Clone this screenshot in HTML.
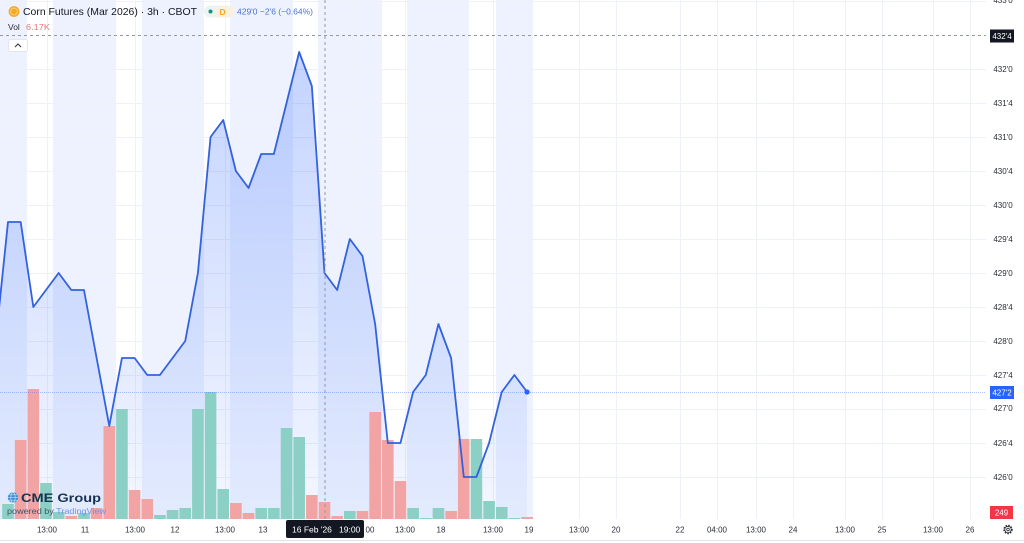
<!DOCTYPE html>
<html><head><meta charset="utf-8"><style>
html,body{margin:0;padding:0;background:#fff;}
svg{display:block;}
</style></head><body>
<svg width="1024" height="543" viewBox="0 0 1024 543" xmlns="http://www.w3.org/2000/svg" font-family="'Liberation Sans', sans-serif">
<defs>
<linearGradient id="g" x1="0" y1="50" x2="0" y2="519" gradientUnits="userSpaceOnUse">
<stop offset="0" stop-color="#2962ff" stop-opacity="0.28"/>
<stop offset="1" stop-color="#2962ff" stop-opacity="0.05"/>
</linearGradient>
<clipPath id="cp"><rect x="0" y="0" width="986" height="519"/></clipPath>
</defs>
<rect width="1024" height="543" fill="#fff"/>
<!-- session bands -->
<g fill="#edf2fe">
<rect x="0" y="0" width="27" height="519"/>
<rect x="53" y="0" width="63" height="519"/>
<rect x="142" y="0" width="62" height="519"/>
<rect x="230" y="0" width="63" height="519"/>
<rect x="318" y="0" width="64" height="519"/>
<rect x="407" y="0" width="62" height="519"/>
<rect x="496" y="0" width="37" height="519"/>
</g>
<!-- grid -->
<g stroke="#eef1f7" stroke-width="1">
<line x1="0" y1="69.5" x2="986" y2="69.5"/>
<line x1="0" y1="103.5" x2="986" y2="103.5"/>
<line x1="0" y1="137.5" x2="986" y2="137.5"/>
<line x1="0" y1="171.5" x2="986" y2="171.5"/>
<line x1="0" y1="205.5" x2="986" y2="205.5"/>
<line x1="0" y1="239.5" x2="986" y2="239.5"/>
<line x1="0" y1="273.5" x2="986" y2="273.5"/>
<line x1="0" y1="307.5" x2="986" y2="307.5"/>
<line x1="0" y1="341.5" x2="986" y2="341.5"/>
<line x1="0" y1="375.5" x2="986" y2="375.5"/>
<line x1="0" y1="409.5" x2="986" y2="409.5"/>
<line x1="0" y1="443.5" x2="986" y2="443.5"/>
<line x1="0" y1="477.5" x2="986" y2="477.5"/>
<line x1="0" y1="1.5" x2="986" y2="1.5"/>
<line x1="47.5" y1="0" x2="47.5" y2="519"/>
<line x1="85.5" y1="0" x2="85.5" y2="519"/>
<line x1="135.5" y1="0" x2="135.5" y2="519"/>
<line x1="175.5" y1="0" x2="175.5" y2="519"/>
<line x1="225.5" y1="0" x2="225.5" y2="519"/>
<line x1="263.5" y1="0" x2="263.5" y2="519"/>
<line x1="352.5" y1="0" x2="352.5" y2="519"/>
<line x1="405.5" y1="0" x2="405.5" y2="519"/>
<line x1="441.5" y1="0" x2="441.5" y2="519"/>
<line x1="493.5" y1="0" x2="493.5" y2="519"/>
<line x1="529.5" y1="0" x2="529.5" y2="519"/>
<line x1="579.5" y1="0" x2="579.5" y2="519"/>
<line x1="616.5" y1="0" x2="616.5" y2="519"/>
<line x1="680.5" y1="0" x2="680.5" y2="519"/>
<line x1="717.5" y1="0" x2="717.5" y2="519"/>
<line x1="756.5" y1="0" x2="756.5" y2="519"/>
<line x1="793.5" y1="0" x2="793.5" y2="519"/>
<line x1="845.5" y1="0" x2="845.5" y2="519"/>
<line x1="882.5" y1="0" x2="882.5" y2="519"/>
<line x1="933.5" y1="0" x2="933.5" y2="519"/>
<line x1="970.5" y1="0" x2="970.5" y2="519"/>
</g>
<g clip-path="url(#cp)">
<!-- area -->
<path fill="url(#g)" d="M-4.66,344 L8,222 L20.66,222 L33.32,307 L45.98,290 L58.64,273 L71.3,290 L83.96,290 L96.62,358 L109.28,426 L121.94,358 L134.6,358 L147.26,375 L159.92,375 L172.58,358 L185.24,341 L197.9,273 L210.56,137 L223.22,120 L235.88,171 L248.54,188 L261.2,154 L273.86,154 L286.52,103 L299.18,52 L311.84,86 L324.5,273 L337.16,290 L349.82,239 L362.48,256 L375.14,324 L387.8,443 L400.46,443 L413.12,392 L425.78,375 L438.44,324 L451.1,358 L463.76,477 L476.42,477 L489.08,443 L501.74,392 L514.4,375 L527.06,392 L527.06,519 L-4.66,519 Z"/>
<!-- volume bars -->
<g>
<rect x="2.2" y="504" width="11.6" height="15" fill="#8bcfc5"/>
<rect x="14.86" y="440" width="11.6" height="79" fill="#f2a3a3"/>
<rect x="27.52" y="389" width="11.6" height="130" fill="#f2a3a3"/>
<rect x="40.18" y="483" width="11.6" height="36" fill="#8bcfc5"/>
<rect x="52.84" y="512" width="11.6" height="7" fill="#8bcfc5"/>
<rect x="65.5" y="516" width="11.6" height="3" fill="#f2a3a3"/>
<rect x="78.16" y="513" width="11.6" height="6" fill="#8bcfc5"/>
<rect x="90.82" y="508" width="11.6" height="11" fill="#f2a3a3"/>
<rect x="103.48" y="426" width="11.6" height="93" fill="#f2a3a3"/>
<rect x="116.14" y="409" width="11.6" height="110" fill="#8bcfc5"/>
<rect x="128.8" y="490" width="11.6" height="29" fill="#f2a3a3"/>
<rect x="141.46" y="499" width="11.6" height="20" fill="#f2a3a3"/>
<rect x="154.12" y="515" width="11.6" height="4" fill="#8bcfc5"/>
<rect x="166.78" y="510" width="11.6" height="9" fill="#8bcfc5"/>
<rect x="179.44" y="508" width="11.6" height="11" fill="#8bcfc5"/>
<rect x="192.1" y="409" width="11.6" height="110" fill="#8bcfc5"/>
<rect x="204.76" y="392" width="11.6" height="127" fill="#8bcfc5"/>
<rect x="217.42" y="489" width="11.6" height="30" fill="#8bcfc5"/>
<rect x="230.08" y="503" width="11.6" height="16" fill="#f2a3a3"/>
<rect x="242.74" y="513" width="11.6" height="6" fill="#f2a3a3"/>
<rect x="255.4" y="508" width="11.6" height="11" fill="#8bcfc5"/>
<rect x="268.06" y="508" width="11.6" height="11" fill="#8bcfc5"/>
<rect x="280.72" y="428" width="11.6" height="91" fill="#8bcfc5"/>
<rect x="293.38" y="437" width="11.6" height="82" fill="#8bcfc5"/>
<rect x="306.04" y="495" width="11.6" height="24" fill="#f2a3a3"/>
<rect x="318.7" y="502" width="11.6" height="17" fill="#f2a3a3"/>
<rect x="331.36" y="516" width="11.6" height="3" fill="#f2a3a3"/>
<rect x="344.02" y="511" width="11.6" height="8" fill="#8bcfc5"/>
<rect x="356.68" y="511" width="11.6" height="8" fill="#f2a3a3"/>
<rect x="369.34" y="412" width="11.6" height="107" fill="#f2a3a3"/>
<rect x="382" y="440" width="11.6" height="79" fill="#f2a3a3"/>
<rect x="394.66" y="481" width="11.6" height="38" fill="#f2a3a3"/>
<rect x="407.32" y="508" width="11.6" height="11" fill="#8bcfc5"/>
<rect x="419.98" y="518" width="11.6" height="1" fill="#8bcfc5"/>
<rect x="432.64" y="508" width="11.6" height="11" fill="#8bcfc5"/>
<rect x="445.3" y="511" width="11.6" height="8" fill="#f2a3a3"/>
<rect x="457.96" y="439" width="11.6" height="80" fill="#f2a3a3"/>
<rect x="470.62" y="439" width="11.6" height="80" fill="#8bcfc5"/>
<rect x="483.28" y="501" width="11.6" height="18" fill="#8bcfc5"/>
<rect x="495.94" y="507" width="11.6" height="12" fill="#8bcfc5"/>
<rect x="508.6" y="518" width="11.6" height="1" fill="#8bcfc5"/>
<rect x="521.26" y="517" width="11.6" height="2" fill="#f2a3a3"/>
</g>
<!-- last price line -->
<line x1="0" y1="392.5" x2="986" y2="392.5" stroke="#2962ff" stroke-opacity="0.35" stroke-width="1" stroke-dasharray="1 1"/>
<!-- line series -->
<polyline fill="none" stroke="#3362dc" stroke-width="1.8" stroke-linejoin="round" points="-4.66,344 8,222 20.66,222 33.32,307 45.98,290 58.64,273 71.3,290 83.96,290 96.62,358 109.28,426 121.94,358 134.6,358 147.26,375 159.92,375 172.58,358 185.24,341 197.9,273 210.56,137 223.22,120 235.88,171 248.54,188 261.2,154 273.86,154 286.52,103 299.18,52 311.84,86 324.5,273 337.16,290 349.82,239 362.48,256 375.14,324 387.8,443 400.46,443 413.12,392 425.78,375 438.44,324 451.1,358 463.76,477 476.42,477 489.08,443 501.74,392 514.4,375 527.06,392"/>
<circle cx="527.06" cy="392" r="2.6" fill="#2962ff"/>
<!-- crosshair -->
<line x1="325" y1="0" x2="325" y2="519" stroke="#9598a1" stroke-width="1" stroke-dasharray="3 3"/>
<line x1="0" y1="35.5" x2="988" y2="35.5" stroke="#9598a1" stroke-width="1" stroke-dasharray="3 3"/>
</g>
<!-- legend -->
<circle cx="14" cy="11.5" r="5.4" fill="#f4a828"/>
<circle cx="14" cy="11.5" r="3.4" fill="none" stroke="#fbd27a" stroke-width="1"/>
<text x="23" y="15" font-size="10.5" fill="#131722" textLength="174" lengthAdjust="spacingAndGlyphs">Corn Futures (Mar 2026) · 3h · CBOT</text>
<rect x="204" y="5.5" width="30" height="12" rx="6" fill="#edf3f1"/>
<rect x="216" y="5.5" width="18" height="12" rx="6" fill="#fbf0de"/>
<circle cx="210.5" cy="11.5" r="2" fill="#089981"/>
<text x="219.5" y="15" font-size="8.5" fill="#f5a623" font-weight="bold">D</text>
<text x="237" y="14.5" font-size="8.5" fill="#4a70d6" textLength="76" lengthAdjust="spacingAndGlyphs">429'0 −2'6 (−0.64%)</text>
<text x="8" y="30" font-size="8.5" fill="#2a2e39">Vol</text>
<text x="26" y="30" font-size="8.5" fill="#e27a7a" textLength="24" lengthAdjust="spacingAndGlyphs">6.17K</text>
<rect x="8.5" y="39.5" width="19" height="12" rx="2" fill="#fff" stroke="#e3e6ee"/>
<polyline points="15,47 18,44 21,47" fill="none" stroke="#2a2e39" stroke-width="1"/>
<!-- CME logo -->
<circle cx="13" cy="497.5" r="5.2" fill="#3a8fd6"/>
<g stroke="#cfe6fa" stroke-width="0.6" fill="none">
<ellipse cx="13" cy="497.5" rx="2.2" ry="5.2"/>
<line x1="7.8" y1="497.5" x2="18.2" y2="497.5"/>
<line x1="8.8" y1="494.8" x2="17.2" y2="494.8"/>
<line x1="8.8" y1="500.2" x2="17.2" y2="500.2"/>
</g>
<text x="21" y="502" font-size="12" font-weight="bold" fill="#16324f" textLength="80" lengthAdjust="spacingAndGlyphs">CME Group</text>
<text x="7" y="514" font-size="8.5" fill="#3f5566" textLength="99" lengthAdjust="spacingAndGlyphs">powered by <tspan fill="#6d93ea">TradingView</tspan></text>
<!-- price axis -->
<rect x="986" y="0" width="38" height="519" fill="#fff"/>
<g font-size="8" fill="#2a2e39" text-anchor="middle">
<text x="1003" y="3">433'0</text>
<text x="1003" y="72">432'0</text>
<text x="1003" y="106">431'4</text>
<text x="1003" y="140">431'0</text>
<text x="1003" y="174">430'4</text>
<text x="1003" y="208">430'0</text>
<text x="1003" y="242">429'4</text>
<text x="1003" y="276">429'0</text>
<text x="1003" y="310">428'4</text>
<text x="1003" y="344">428'0</text>
<text x="1003" y="378">427'4</text>
<text x="1003" y="411">427'0</text>
<text x="1003" y="446">426'4</text>
<text x="1003" y="480">426'0</text>
</g>
<rect x="990" y="29.5" width="24" height="13" fill="#131722"/>
<text x="1002" y="39" font-size="8" fill="#fff" text-anchor="middle">432'4</text>
<rect x="990" y="386" width="24" height="13" fill="#2962ff"/>
<text x="1002" y="395.5" font-size="8" fill="#fff" text-anchor="middle">427'2</text>
<rect x="990" y="506" width="23" height="13" fill="#f23645"/>
<text x="1001.5" y="515.5" font-size="8" fill="#fff" text-anchor="middle">249</text>
<!-- time axis -->
<rect x="0" y="519" width="1024" height="24" fill="#fff"/>
<line x1="0" y1="540.5" x2="1024" y2="540.5" stroke="#e0e3eb" stroke-width="1"/>
<g font-size="8" fill="#2a2e39" text-anchor="middle">
<text x="47" y="532.5">13:00</text>
<text x="85" y="532.5">11</text>
<text x="135" y="532.5">13:00</text>
<text x="175" y="532.5">12</text>
<text x="225" y="532.5">13:00</text>
<text x="263" y="532.5">13</text>
<text x="370" y="532.5">00</text>
<text x="405" y="532.5">13:00</text>
<text x="441" y="532.5">18</text>
<text x="493" y="532.5">13:00</text>
<text x="529" y="532.5">19</text>
<text x="579" y="532.5">13:00</text>
<text x="616" y="532.5">20</text>
<text x="680" y="532.5">22</text>
<text x="717" y="532.5">04:00</text>
<text x="756" y="532.5">13:00</text>
<text x="793" y="532.5">24</text>
<text x="845" y="532.5">13:00</text>
<text x="882" y="532.5">25</text>
<text x="933" y="532.5">13:00</text>
<text x="970" y="532.5">26</text>
</g>
<rect x="286" y="520" width="78" height="18" rx="2" fill="#131722"/>
<text x="292" y="532.5" font-size="8.5" fill="#fff">16 Feb '26</text>
<text x="339" y="532.5" font-size="8.5" fill="#fff">19:00</text>
<!-- gear -->
<circle cx="1008" cy="529.5" r="4" fill="none" stroke="#2a2e39" stroke-width="1.4" stroke-dasharray="1.6 1.1"/>
<circle cx="1008" cy="529.5" r="3.2" fill="none" stroke="#2a2e39" stroke-width="0.8"/>
<circle cx="1008" cy="529.5" r="1.3" fill="none" stroke="#2a2e39" stroke-width="0.8"/>
</svg>
</body></html>
